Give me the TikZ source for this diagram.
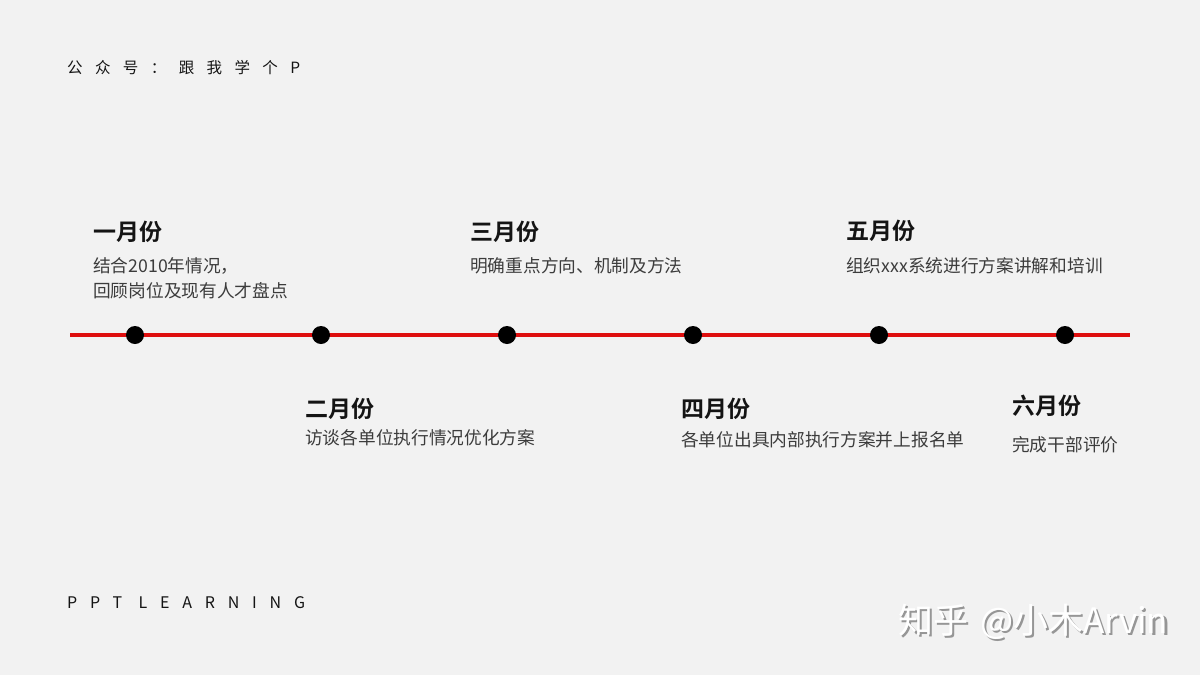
\documentclass[tikz,border=0pt]{standalone}
\usepackage{fontspec}
\setmainfont{Noto Sans CJK SC}
\newfontfamily\cjk{Noto Sans CJK SC}
\newfontfamily\cjkb{Noto Sans CJK SC}[BoldFont=* Bold]
\newfontfamily\spaced{Noto Sans CJK SC}[LetterSpace=80]
\definecolor{bg}{RGB}{242,242,242}
\definecolor{tlred}{RGB}{222,14,14}
\definecolor{headc}{RGB}{20,20,20}
\definecolor{bodyc}{RGB}{60,60,60}
\definecolor{shadowc}{RGB}{150,150,150}
\newcommand\wmtext{知乎\hspace{4pt} @小木Arvin}
\tikzset{
  month/.style={anchor=base west, inner sep=0pt, text=headc, font=\cjkb\bfseries\fontsize{23}{23}\selectfont},
  desc/.style={anchor=base west, inner sep=0pt, text=bodyc, font=\cjk\fontsize{17.7}{25}\selectfont, align=left},
  dotmark/.style={circle, fill=black, inner sep=0pt, minimum size=18pt},
  corner/.style={anchor=base west, inner sep=0pt, text=headc, font=\spaced\fontsize{15.5}{15.5}\selectfont},
  wmark/.style={anchor=base west, inner sep=0pt, font=\cjk\fontsize{35}{35}\selectfont},
}
\begin{document}
\begin{tikzpicture}[x=1pt,y=-1pt]
\fill[bg] (0,0) rectangle (1200,675);
\useasboundingbox (0,0) rectangle (1200,675);

\node[corner] (hdr) at (67,73) {公众号：跟我学个P};
\node[corner, font=\spaced\fontsize{16}{16}\selectfont] (foot) at (67,608) {PPT LEARNING};

\coordinate (lineL) at (70,335);
\coordinate (lineR) at (1130,335);
\draw[tlred, line width=4pt] (lineL) -- (lineR);

\node[dotmark] (d1) at (135,335) {};
\node[dotmark] (d2) at (321,335) {};
\node[dotmark] (d3) at (507,335) {};
\node[dotmark] (d4) at (693,335) {};
\node[dotmark] (d5) at (879,335) {};
\node[dotmark] (d6) at (1065,335) {};

\node[month] (m1) at (93,240) {一月份};
\node[desc] (t1a) at (93,272) {结合2010年情况，};
\node[desc] (t1b) at (93,297) {回顾岗位及现有人才盘点};

\node[month] (m3) at (470,240) {三月份};
\node[desc] (t3) at (470,272) {明确重点方向、机制及方法};

\node[month] (m5) at (846,239) {五月份};
\node[desc] (t5) at (846,272) {组织xxx系统进行方案讲解和培训};

\node[month] (m2) at (305,417) {二月份};
\node[desc] (t2) at (305,444) {访谈各单位执行情况优化方案};

\node[month] (m4) at (681,417) {四月份};
\node[desc] (t4) at (681,446) {各单位出具内部执行方案并上报名单};

\node[month] (m6) at (1012,414) {六月份};
\node[desc] (t6) at (1012,451) {完成干部评价};

\node[wmark] (wm) at (898,633) {\makebox[0pt][l]{\hspace{2.5pt}\raisebox{-2.5pt}{\color{shadowc}\wmtext}}\color{white}\wmtext};
\end{tikzpicture}
\end{document}
